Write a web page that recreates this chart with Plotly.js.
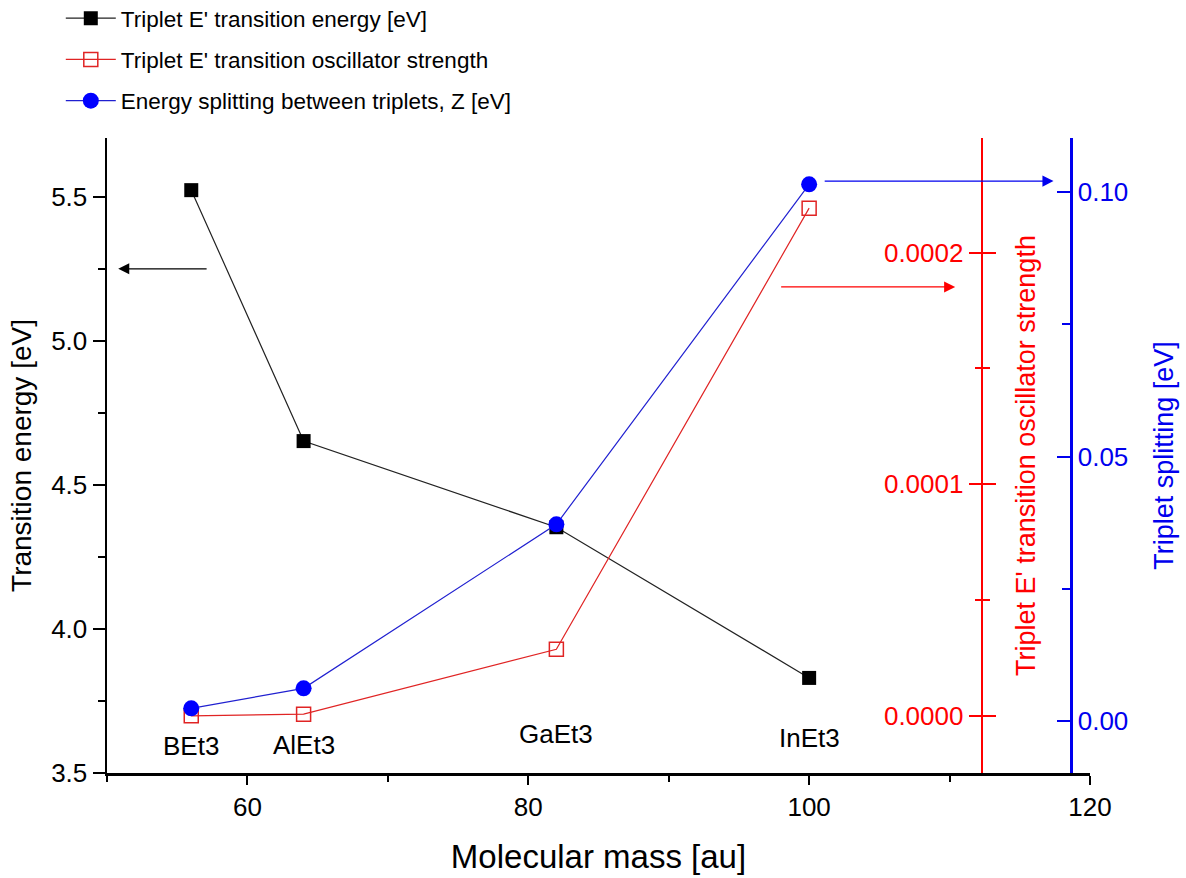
<!DOCTYPE html>
<html>
<head>
<meta charset="utf-8">
<script src="https://cdn.plot.ly/plotly-3.0.1.min.js"></script>
<style>html,body{margin:0;padding:0;background:#fff;}#chart{width:1186px;height:878px;}</style>
</head>
<body>
<div id="chart"></div>
<script>
// ---- data ----
const compounds = ['BEt3', 'AlEt3', 'GaEt3', 'InEt3'];
const molecularMass = [56, 64, 82, 100];
const transitionEnergy = [5.523, 4.652, 4.353, 3.830];
const oscillatorStrength = [0.0000000, 0.0000007, 0.0000287, 0.0002192];
const tripletSplitting = [0.00245, 0.00623, 0.0372, 0.1014];
const seriesNames = [
  "Triplet E' transition energy [eV]",
  "Triplet E' transition oscillator strength",
  "Energy splitting between triplets, Z [eV]"
];
const xTicks = [60, 80, 100, 120];
const yLeftTicks = [3.5, 4.0, 4.5, 5.0, 5.5];
const yRedTicks = [0.0000, 0.0001, 0.0002];
const yBlueTicks = [0.00, 0.05, 0.10];

const FONT = 'Liberation Sans, Arial, sans-serif';
const RED = '#ff0000';
const BLUE = '#0000ee';

const traces = [
  {
    x: molecularMass, y: transitionEnergy, name: seriesNames[0],
    type: 'scatter', mode: 'lines+markers', xaxis: 'x', yaxis: 'y',
    line: {color: '#222222', width: 1.2},
    marker: {symbol: 'square', size: 14, color: '#000000'},
    legendgroup: 'a'
  },
  {
    x: molecularMass, y: oscillatorStrength, name: seriesNames[1],
    type: 'scatter', mode: 'lines+markers', xaxis: 'x', yaxis: 'y2',
    line: {color: '#e02424', width: 1.2},
    marker: {symbol: 'square-open', size: 14, color: '#e02424', line: {width: 1.5}},
    legendgroup: 'b'
  },
  {
    x: molecularMass, y: tripletSplitting, name: seriesNames[2],
    type: 'scatter', mode: 'lines+markers', xaxis: 'x', yaxis: 'y3',
    line: {color: '#2020d0', width: 1.2},
    marker: {symbol: 'circle', size: 16, color: '#0000ff'},
    legendgroup: 'c'
  },
  {
    // helper so the red tick-label axis is drawn (invisible)
    x: molecularMass, y: oscillatorStrength, xaxis: 'x', yaxis: 'y4',
    type: 'scatter', mode: 'lines', opacity: 0, showlegend: false, hoverinfo: 'skip'
  }
];

const redRange = [-0.0000247, 0.0002495];
const redPos = 0.8898;

const annotations = [];
const labelY = [3.594, 3.597, 3.635, 3.622];
compounds.forEach((c, i) => {
  annotations.push({
    x: molecularMass[i], y: labelY[i], xref: 'x', yref: 'y', text: c, showarrow: false,
    font: {family: FONT, size: 26, color: '#000'}, xanchor: 'center', yanchor: 'middle'
  });
});
// direction arrows
annotations.push({x: 50.8, y: 5.25, ax: 57.2, ay: 5.25, xref: 'x', yref: 'y', axref: 'x', ayref: 'y',
  text: '', showarrow: true, arrowhead: 2, arrowsize: 1.7, arrowwidth: 1.3, arrowcolor: '#000'});
annotations.push({x: 110.4, y: 0.0001852, ax: 97.9, ay: 0.0001852, xref: 'x', yref: 'y2', axref: 'x', ayref: 'y2',
  text: '', showarrow: true, arrowhead: 2, arrowsize: 1.7, arrowwidth: 1.3, arrowcolor: RED});
annotations.push({x: 117.4, y: 0.102, ax: 101.0, ay: 0.102, xref: 'x', yref: 'y3', axref: 'x', ayref: 'y3',
  text: '', showarrow: true, arrowhead: 2, arrowsize: 1.7, arrowwidth: 1.3, arrowcolor: BLUE});

const layout = {
  width: 1186, height: 878,
  margin: {l: 107, r: 96, t: 138, b: 105, pad: 0, autoexpand: false},
  paper_bgcolor: '#fff', plot_bgcolor: '#fff',
  font: {family: FONT, color: '#000'},
  showlegend: true,
  legend: {
    x: -0.047, y: 1.222, xanchor: 'left', yanchor: 'top',
    font: {family: FONT, size: 22.5, color: '#000'},
    bgcolor: 'rgba(0,0,0,0)', traceorder: 'grouped', tracegroupgap: 9, itemwidth: 50
  },
  xaxis: {
    range: [50, 120], tickvals: xTicks, ticktext: xTicks.map(String),
    ticks: 'outside', ticklen: 9, tickwidth: 2, tickcolor: '#000',
    minor: {dtick: 10, tick0: 50, ticks: 'outside', ticklen: 6, tickwidth: 2, tickcolor: '#000'},
    showline: true, linewidth: 2.5, linecolor: '#000', showgrid: false, zeroline: false,
    tickfont: {family: FONT, size: 26, color: '#000'},
    title: {text: 'Molecular mass [au]', font: {family: FONT, size: 33, color: '#000'}, standoff: 24}
  },
  yaxis: {
    range: [3.5, 5.704], tickvals: yLeftTicks, ticktext: yLeftTicks.map(v => v.toFixed(1)),
    ticks: 'outside', ticklen: 12, tickwidth: 2, tickcolor: '#000',
    minor: {dtick: 0.25, tick0: 3.5, ticks: 'outside', ticklen: 7, tickwidth: 2, tickcolor: '#000'},
    showline: true, linewidth: 2.5, linecolor: '#000', showgrid: false, zeroline: false,
    tickfont: {family: FONT, size: 26, color: '#000'},
    title: {text: 'Transition energy [eV]', font: {family: FONT, size: 28, color: '#000'}, standoff: 12}
  },
  yaxis2: {
    overlaying: 'y', anchor: 'free', position: redPos, side: 'right',
    range: redRange, tickvals: yRedTicks, showticklabels: false,
    ticks: 'outside', ticklen: 13, tickwidth: 2, tickcolor: RED,
    minor: {dtick: 0.00005, tick0: 0, ticks: 'outside', ticklen: 7, tickwidth: 2, tickcolor: RED},
    showline: true, linewidth: 2.5, linecolor: RED, showgrid: false, zeroline: false,
    title: {text: "Triplet E' transition oscillator strength", font: {family: FONT, size: 27, color: RED}, standoff: 20}
  },
  yaxis4: {
    overlaying: 'y', anchor: 'free', position: redPos, side: 'left',
    range: redRange, tickvals: yRedTicks, ticktext: yRedTicks.map(v => v.toFixed(4)),
    ticks: 'outside', ticklen: 13, tickwidth: 2, tickcolor: RED,
    minor: {dtick: 0.00005, tick0: 0, ticks: 'outside', ticklen: 7, tickwidth: 2, tickcolor: RED},
    showline: false, showgrid: false, zeroline: false,
    tickfont: {family: FONT, size: 26, color: RED}
  },
  yaxis3: {
    overlaying: 'y', anchor: 'free', position: 0.9807, side: 'right',
    range: [-0.00976, 0.11014], tickvals: yBlueTicks, ticktext: yBlueTicks.map(v => v.toFixed(2)),
    ticks: 'inside', ticklen: 13, tickwidth: 2, tickcolor: BLUE,
    minor: {dtick: 0.025, tick0: 0, ticks: 'inside', ticklen: 8, tickwidth: 2, tickcolor: BLUE},
    showline: true, linewidth: 2.5, linecolor: BLUE, showgrid: false, zeroline: false,
    tickfont: {family: FONT, size: 26, color: BLUE},
    title: {text: 'Triplet splitting [eV]', font: {family: FONT, size: 27, color: BLUE}, standoff: 26}
  },
  annotations: annotations
};

Plotly.newPlot('chart', traces, layout, {displayModeBar: false, staticPlot: true});
</script>
</body>
</html>
